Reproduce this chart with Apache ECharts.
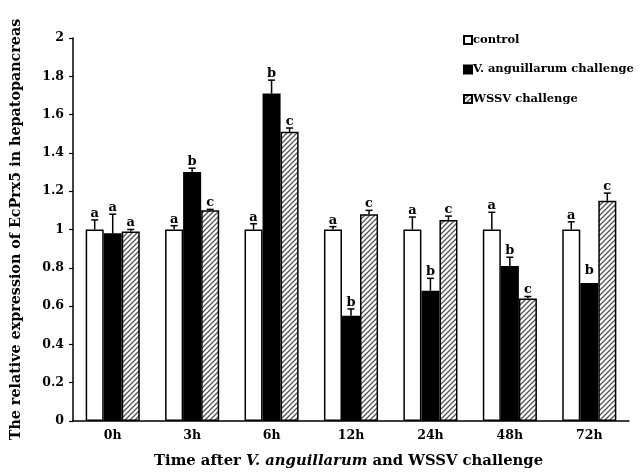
<!DOCTYPE html>
<html><head><meta charset="utf-8">
<script src="https://cdn.jsdelivr.net/npm/echarts@6/dist/echarts.min.js"></script>
<style>html,body{margin:0;padding:0;background:#fff}#c{width:642px;height:473px}</style>
</head><body><div id="c"></div>
<script>
const categories = ['0h','3h','6h','12h','24h','48h','72h'];
const yTicks = [0,0.2,0.4,0.6,0.8,1,1.2,1.4,1.6,1.8,2];
const seriesNames = ['control','V. anguillarum challenge','WSSV challenge'];
const control    = [1.00,1.00,1.00,1.00,1.00,1.00,1.00];
const controlErr = [0.05,0.02,0.03,0.015,0.065,0.09,0.04];
const controlSig = ['a','a','a','a','a','a','a'];
const vang       = [0.98,1.30,1.71,0.55,0.68,0.81,0.72];
const vangErr    = [0.10,0.02,0.07,0.035,0.065,0.045,0];
const vangSig    = ['a','b','b','b','b','b','b'];
const wssv       = [0.99,1.10,1.51,1.08,1.05,0.64,1.15];
const wssvErr    = [0.01,0.005,0.02,0.02,0.02,0.01,0.04];
const wssvSig    = ['a','c','c','c','c','c','c'];

const FONT = '"DejaVu Serif", "Liberation Serif", serif';

function hatch(){
  const c = document.createElement('canvas');
  c.width = 5; c.height = 5;
  const g = c.getContext('2d');
  g.fillStyle = '#fff'; g.fillRect(0,0,5,5);
  g.strokeStyle = '#555'; g.lineWidth = 1.3;
  g.beginPath();
  g.moveTo(-1,6); g.lineTo(6,-1);
  g.moveTo(-1,1); g.lineTo(1,-1);
  g.moveTo(4,6); g.lineTo(6,4);
  g.stroke();
  return c;
}
const hatchFill = {image: hatch(), repeat: 'repeat'};

const BW = 0.227;
function errSeries(vals, errs, sigs, idx){
  return {
    type: 'custom',
    z: 5,
    silent: true,
    data: vals.map((v,i)=>[i, v, errs[i], sigs[i]]),
    renderItem: function(params, api){
      const ci = api.value(0), v = api.value(1), e = api.value(2);
      const band = api.size([1,0])[0];
      const c = api.coord([ci, v]);
      const x = c[0] + (idx-1)*band*BW;
      const yTop = api.coord([ci, v+e])[1];
      const ch = [];
      if (e > 0) {
        ch.push({type:'line', shape:{x1:x,y1:c[1],x2:x,y2:yTop}, style:{stroke:'#000',lineWidth:1.5}});
        ch.push({type:'line', shape:{x1:x-3.5,y1:yTop,x2:x+3.5,y2:yTop}, style:{stroke:'#000',lineWidth:1.5}});
      }
      ch.push({type:'text', x:x, y:yTop-(e>0?0:6), style:{text: sigs[params.dataIndex], font:'bold 13px '+FONT, fill:'#000', align:'center', verticalAlign:'bottom'}});
      return {type:'group', children: ch};
    }
  };
}

const chart = echarts.init(document.getElementById('c'), null, {renderer:'canvas'});
chart.setOption({
  animation: false,
  backgroundColor: '#fff',
  grid: {left: 73, right: 13, top: 38, bottom: 52},
  legend: {
    data: seriesNames,
    orient: 'vertical',
    left: 458, top: 29,
    itemWidth: 8, itemHeight: 8, itemGap: 17.5,
    icon: 'rect',
    textStyle: {fontFamily: FONT, fontWeight: 'bold', fontSize: 11.5, color: '#000', padding:[0,0,0,-4]}
  },
  xAxis: {
    type: 'category', data: categories,
    axisLine: {lineStyle: {color:'#000', width: 1.5}},
    axisTick: {inside: true, length: 4, lineStyle:{color:'#000', width:1.2}},
    axisLabel: {fontFamily: FONT, fontWeight: 'bold', fontSize: 12.5, color:'#000', margin: 8}
  },
  yAxis: {
    type: 'value', min: 0, max: 2, interval: 0.2,
    name: 'The relative expression of EcPrx5 in hepatopancreas',
    nameLocation: 'middle', nameRotate: 90, nameGap: 50,
    nameTextStyle: {fontFamily: FONT, fontWeight: 'bold', fontSize: 14.3, color:'#000'},
    splitLine: {show: false},
    axisLine: {show: true, lineStyle: {color:'#000', width: 1.5}},
    axisTick: {show: true, length: 4, lineStyle:{color:'#000', width:1.2}},
    axisLabel: {fontFamily: FONT, fontWeight: 'bold', fontSize: 12.5, color:'#000', margin: 9,
      formatter: v => String(Math.round(v*10)/10)}
  },
  graphic: [{
    type: 'text', left: 154, top: 454,
    style: {
      text: '{n|Time after }{i|V. anguillarum}{n| and WSSV challenge}',
      rich: {
        n: {fontFamily: FONT, fontWeight: 'bold', fontSize: 14.8, fill:'#000'},
        i: {fontFamily: FONT, fontWeight: 'bold', fontStyle: 'italic', fontSize: 14.8, fill:'#000'}
      }
    }
  }],
  series: [
    {name: seriesNames[0], type:'bar', data: control, barWidth: '22.7%', barGap: '0%',
     itemStyle: {color:'#fff', borderColor:'#000', borderWidth: 1.5}},
    {name: seriesNames[1], type:'bar', data: vang, barWidth: '22.7%', barGap: '0%',
     itemStyle: {color:'#000', borderColor:'#000', borderWidth: 1.5}},
    {name: seriesNames[2], type:'bar', data: wssv, barWidth: '22.7%', barGap: '0%',
     itemStyle: {color: hatchFill, borderColor:'#000', borderWidth: 1.5}},
    errSeries(control, controlErr, controlSig, 0),
    errSeries(vang, vangErr, vangSig, 1),
    errSeries(wssv, wssvErr, wssvSig, 2)
  ]
});
</script></body></html>
